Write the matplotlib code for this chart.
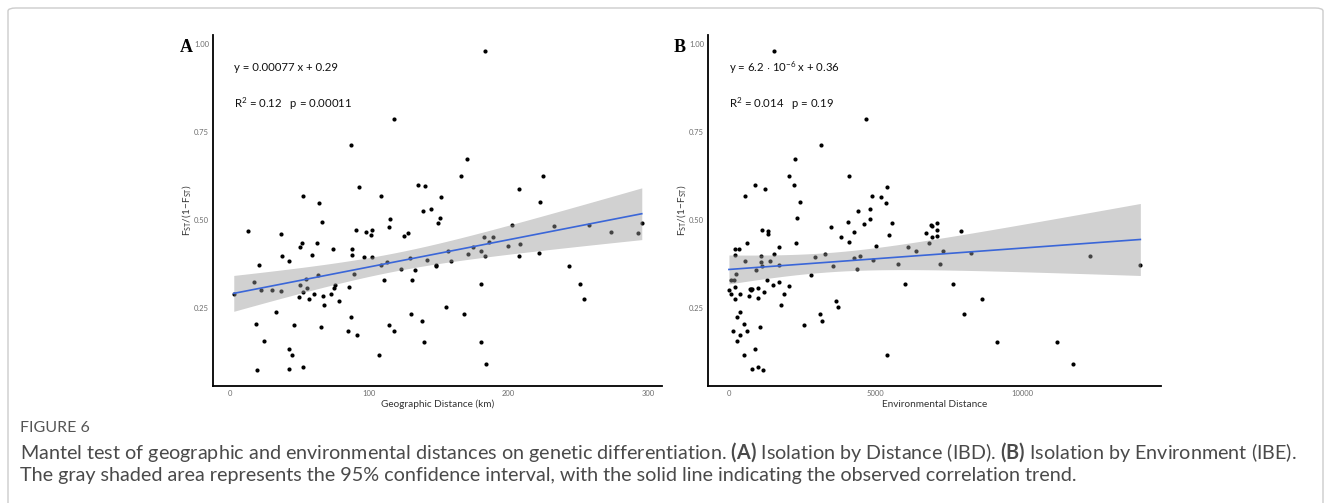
import numpy as np
import matplotlib
matplotlib.use("Agg")
import matplotlib.pyplot as plt
from matplotlib.patches import FancyBboxPatch

# panel A: geographic distance (km) vs Fst/(1-Fst)
geo_x = [183.5, 117.7, 86.9, 170.2, 165.9, 225.0, 92.8, 135.1, 139.8, 207.7,
         52.2, 108.2, 151.9, 64.1, 222.4, 138.9, 144.3, 66.0, 114.9, 150.7,
         149.3, 202.7, 232.8, 257.8, 295.7, 114.2, 13.3, 17.1, 20.9, 22.1,
         18.5, 24.4, 19.7, 2.8, 30.1, 32.8, 36.8, 37.0, 37.7, 42.7,
         42.2, 44.8, 42.7, 46.3, 49.8, 50.3, 50.6, 51.7, 52.7, 52.5,
         54.6, 55.1, 56.5, 59.3, 60.1, 62.2, 63.1, 65.7, 67.2, 67.4,
         72.9, 74.3, 74.9, 75.6, 78.1, 84.7, 85.2, 87.3, 87.6, 88.0,
         88.8, 90.4, 91.4, 96.4, 97.8, 101.3, 101.8, 102.3, 107.3, 108.7,
         110.6, 112.5, 113.9, 117.9, 123.2, 124.9, 127.7, 129.4, 130.1, 130.5,
         132.7, 137.9, 139.1, 141.7, 147.9, 148.3, 155.5, 156.4, 158.5, 168.3,
         170.9, 174.4, 180.0, 180.2, 180.6, 182.5, 183.0, 183.7, 185.9, 188.7,
         199.9, 207.7, 208.4, 221.7, 243.8, 251.1, 253.9, 273.9, 292.9]
geo_y = [0.981, 0.787, 0.715, 0.674, 0.626, 0.626, 0.595, 0.600, 0.598, 0.590,
         0.569, 0.569, 0.565, 0.549, 0.551, 0.527, 0.533, 0.496, 0.503, 0.507,
         0.493, 0.487, 0.483, 0.487, 0.493, 0.481, 0.468, 0.324, 0.374, 0.302,
         0.205, 0.157, 0.074, 0.291, 0.302, 0.240, 0.299, 0.461, 0.397, 0.385,
         0.134, 0.116, 0.076, 0.201, 0.281, 0.315, 0.423, 0.434, 0.082, 0.295,
         0.332, 0.306, 0.276, 0.400, 0.291, 0.434, 0.344, 0.195, 0.285, 0.258,
         0.290, 0.419, 0.308, 0.317, 0.270, 0.185, 0.311, 0.225, 0.402, 0.418,
         0.347, 0.472, 0.173, 0.396, 0.465, 0.459, 0.471, 0.396, 0.118, 0.374,
         0.330, 0.382, 0.202, 0.184, 0.362, 0.455, 0.464, 0.393, 0.233, 0.329,
         0.357, 0.212, 0.155, 0.386, 0.369, 0.374, 0.254, 0.413, 0.383, 0.234,
         0.404, 0.423, 0.412, 0.319, 0.155, 0.453, 0.397, 0.091, 0.437, 0.452,
         0.427, 0.397, 0.433, 0.408, 0.371, 0.319, 0.275, 0.467, 0.463]

# panel B: environmental distance vs Fst/(1-Fst)
env_x = [1523, 4659, 3136, 2239, 2045, 4102, 898, 1239, 2227, 5386,
         557, 4864, 5193, 2432, 5375, 4386, 4818, 2318, 4045, 4807,
         5568, 4614, 6909, 7102, 3477, 0, 68, 80, 125, 182,
         193, 205, 216, 216, 250, 261, 284, 341, 364, 375,
         386, 511, 523, 534, 602, 614, 693, 705, 739, 750,
         773, 795, 898, 909, 977, 989, 989, 1057, 1080, 1102,
         1125, 1136, 1170, 1182, 1284, 1318, 1330, 1409, 1500, 1523,
         1693, 1705, 1716, 1784, 1886, 2034, 2273, 2568, 2807, 2932,
         3102, 3182, 3284, 3557, 3659, 3716, 3830, 4091, 4250, 4273,
         4364, 4466, 4909, 5000, 5398, 5466, 5773, 6011, 6114, 6386,
         6727, 6830, 6920, 6920, 7114, 7114, 7193, 7295, 7636, 7909,
         8011, 8261, 8625, 9159, 11205, 11750, 12318, 14034]
env_y = [0.981, 0.787, 0.715, 0.674, 0.626, 0.626, 0.600, 0.590, 0.599, 0.595,
         0.569, 0.569, 0.565, 0.551, 0.549, 0.527, 0.533, 0.507, 0.496, 0.503,
         0.493, 0.488, 0.487, 0.491, 0.481, 0.302, 0.291, 0.331, 0.185, 0.330,
         0.277, 0.311, 0.418, 0.400, 0.347, 0.157, 0.225, 0.419, 0.240, 0.291,
         0.173, 0.116, 0.205, 0.383, 0.434, 0.184, 0.285, 0.305, 0.301, 0.305,
         0.303, 0.076, 0.134, 0.357, 0.308, 0.082, 0.280, 0.195, 0.397, 0.382,
         0.371, 0.473, 0.074, 0.296, 0.329, 0.468, 0.460, 0.385, 0.317, 0.403,
         0.373, 0.423, 0.323, 0.258, 0.290, 0.314, 0.434, 0.201, 0.345, 0.395,
         0.233, 0.212, 0.404, 0.369, 0.270, 0.254, 0.453, 0.437, 0.465, 0.393,
         0.362, 0.397, 0.386, 0.428, 0.118, 0.459, 0.375, 0.319, 0.424, 0.413,
         0.464, 0.434, 0.483, 0.453, 0.471, 0.455, 0.376, 0.412, 0.319, 0.468,
         0.234, 0.408, 0.275, 0.155, 0.155, 0.091, 0.397, 0.372]

yticks = [0.25, 0.50, 0.75, 1.00]
ylab = r'$\mathrm{F_{ST}/(1\!-\!F_{ST})}$'


def smooth(x, y):
    # lm fit with 95% confidence band, like geom_smooth(method="lm")
    x = np.asarray(x, float)
    y = np.asarray(y, float)
    n = len(x)
    b, a = np.polyfit(x, y, 1)
    resid = y - (a + b * x)
    s = np.sqrt(np.sum(resid ** 2) / (n - 2))
    sxx = np.sum((x - x.mean()) ** 2)
    xs = np.linspace(x.min(), x.max(), 80)
    fit = a + b * xs
    se = s * np.sqrt(1 / n + (xs - x.mean()) ** 2 / sxx)
    return xs, fit, fit - 1.98 * se, fit + 1.98 * se


def panel(ax, x, y, xticks, xlab, eq, r2):
    ax.scatter(x, y, s=9, c='black', linewidths=0, zorder=2)
    xs, fit, lo, hi = smooth(x, y)
    ax.fill_between(xs, lo, hi, color='#999999', alpha=0.45, linewidth=0, zorder=3)
    ax.plot(xs, fit, color='#3a66d8', linewidth=1.2, zorder=4)
    rng = max(x) - min(x)
    ax.set_xlim(min(x) - 0.05 * rng, max(x) + 0.05 * rng)
    yr = max(y) - min(y)
    ax.set_ylim(min(y) - 0.05 * yr, max(y) + 0.05 * yr)
    ax.set_xticks(xticks)
    ax.set_yticks(yticks)
    ax.set_yticklabels(['%.2f' % v for v in yticks])
    ax.tick_params(length=0, labelsize=5.5, labelcolor='#6e6e6e', pad=3)
    for sp in ['top', 'right']:
        ax.spines[sp].set_visible(False)
    for sp in ['left', 'bottom']:
        ax.spines[sp].set_linewidth(1.3)
    ax.set_xlabel(xlab, fontsize=7.2, color='#333333', labelpad=2)
    ax.set_ylabel(ylab, fontsize=7.2, color='#333333', labelpad=1)
    ax.text(0.046, 0.907, eq, transform=ax.transAxes, fontsize=8.2, color='#111111', va='center')
    ax.text(0.046, 0.805, r2, transform=ax.transAxes, fontsize=8.2, color='#111111', va='center')


plt.rcParams['font.family'] = ['Lato', 'DejaVu Sans']
plt.rcParams['mathtext.fontset'] = 'custom'
plt.rcParams['mathtext.rm'] = 'Lato'
plt.rcParams['mathtext.bf'] = 'Lato:bold'

fig = plt.figure(figsize=(13.31, 5.03), dpi=100)

ax1 = fig.add_axes([0.1603, 0.2326, 0.3372, 0.6978])
panel(ax1, geo_x, geo_y, [0, 100, 200, 300], 'Geographic Distance (km)',
      'y = 0.00077 x + 0.29', r'R$^2$ = 0.12   p = 0.00011')

ax2 = fig.add_axes([0.5322, 0.2326, 0.3400, 0.6978])
panel(ax2, env_x, env_y, [0, 5000, 10000], 'Environmental Distance',
      r'y = 6.2 $\cdot$ 10$^{-6}$ x + 0.36', r'R$^2$ = 0.014   p = 0.19')

fig.text(186 / 1331, 1 - 48 / 503, 'A', fontsize=13, fontweight='bold',
         family='Liberation Serif', ha='center', va='center')
fig.text(680 / 1331, 1 - 48 / 503, 'B', fontsize=13, fontweight='bold',
         family='Liberation Serif', ha='center', va='center')

# caption
fig.text(20 / 1331, 1 - 428 / 503, 'FIGURE 6', fontsize=11.5, color='#555555', va='center')
fig.text(20 / 1331, 1 - 452 / 503,
         'Mantel test of geographic and environmental distances on genetic differentiation. '
         r'$\bf{(A)}$ Isolation by Distance (IBD). $\bf{(B)}$ Isolation by Environment (IBE).',
         fontsize=14.2, color='#4a4a4a', va='center')
fig.text(20 / 1331, 1 - 475 / 503,
         'The gray shaded area represents the 95% confidence interval, with the solid line '
         'indicating the observed correlation trend.',
         fontsize=14.2, color='#4a4a4a', va='center')

frame = FancyBboxPatch((8 / 1331, -0.02), 1 - 16 / 1331, 1.0 - 8 / 503 + 0.02,
                       boxstyle='round,pad=0,rounding_size=0.006',
                       transform=fig.transFigure, fill=False,
                       edgecolor='#cccccc', linewidth=1)
fig.patches.append(frame)

fig.savefig('out.png', dpi=100)
